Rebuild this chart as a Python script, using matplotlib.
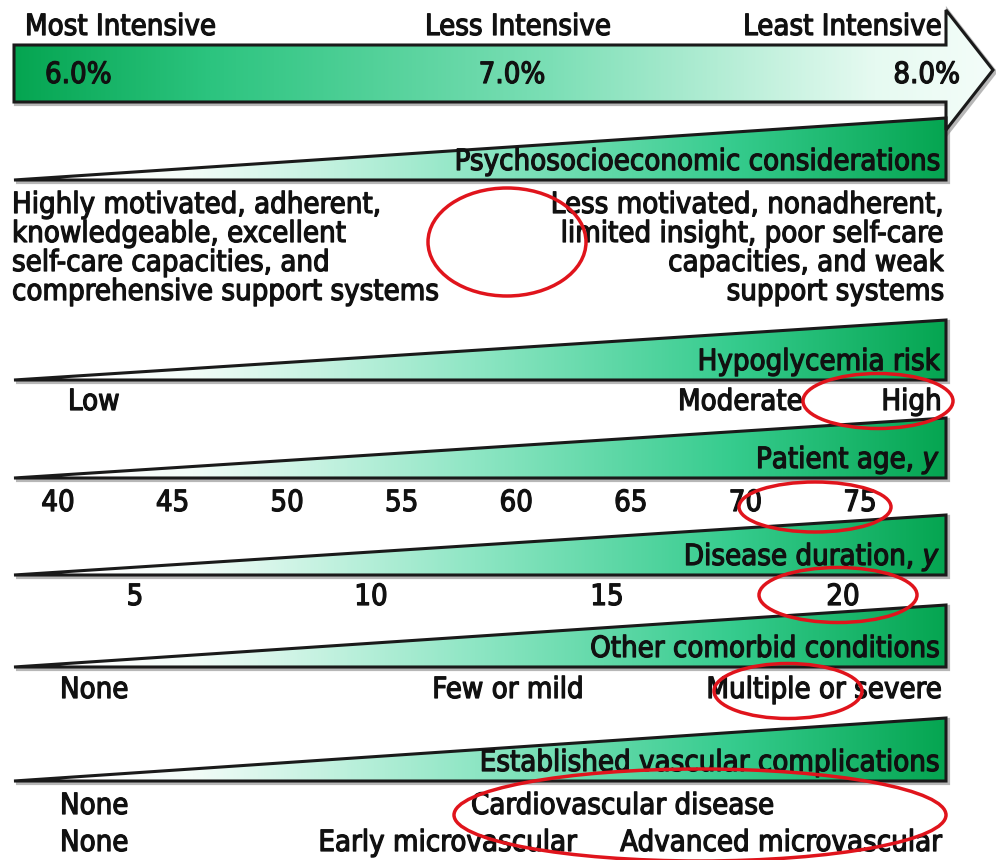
import numpy as np
import matplotlib as mpl
import matplotlib.pyplot as plt
import matplotlib.patheffects as pe
from matplotlib.patches import Polygon, Ellipse
from matplotlib.colors import LinearSegmentedColormap

plt.rcParams['font.family'] = ['DejaVu Sans']
plt.rcParams['font.stretch'] = 'condensed'

# --- chart content ---
top_labels = ["Most Intensive", "Less Intensive", "Least Intensive"]
a1c_targets = ["6.0%", "7.0%", "8.0%"]

wedge_titles = ["Psychosocioeconomic considerations", "Hypoglycemia risk",
                r"Patient age, $\it{y}$", r"Disease duration, $\it{y}$",
                "Other comorbid conditions", "Established vascular complications"]

psych_left = ["Highly motivated, adherent,", "knowledgeable, excellent",
              "self-care capacities, and", "comprehensive support systems"]
psych_right = ["Less motivated, nonadherent,", "limited insight, poor self-care",
               "capacities, and weak", "support systems"]

hypo_labels = ["Low", "Moderate", "High"]
age_ticks = [40, 45, 50, 55, 60, 65, 70, 75]
duration_ticks = [5, 10, 15, 20]
comorbid_labels = ["None", "Few or mild", "Multiple or severe"]
vascular_cvd = ["None", "Cardiovascular disease"]
vascular_micro = ["None", "Early microvascular", "Advanced microvascular"]

# --- layout (pixel space) ---
W, H = 996, 860
LEFT, RIGHT = 14, 946
wedge_rows = [(118, 180), (320, 380), (418, 478), (515, 575), (605, 667), (718, 781)]
FS = 21
heavy = [pe.withStroke(linewidth=0.9, foreground='#111111')]

green = LinearSegmentedColormap.from_list(
    'grn', [(0.0, '#ffffff'), (0.12, '#f2fcf8'), (0.45, '#8ee6c4'),
            (0.75, '#36cc8e'), (1.0, '#05a551')])

fig = plt.figure(figsize=(W / 100, H / 100), dpi=100)
ax = fig.add_axes([0, 0, 1, 1])


def txt(x, y, s, ha='left', z=4):
    ax.text(x, y, s, fontsize=FS, ha=ha, va='center', color='#111111',
            zorder=z, path_effects=heavy)


def grad_poly(verts, x0, x1, cmap, flip=False):
    ys = [v[1] for v in verts]
    # shadow
    sh = Polygon([(x + 2, y + 2) for x, y in verts], closed=True,
                 facecolor='none', edgecolor='#888888', lw=3, alpha=0.6, zorder=1)
    ax.add_patch(sh)
    poly = Polygon(verts, closed=True, facecolor='none', edgecolor='#1a1a1a',
                   lw=2.2, zorder=3, joinstyle='miter')
    ax.add_patch(poly)
    # base colour for the part not covered by the gradient
    base = Polygon(verts, closed=True, facecolor=cmap(1.0 if flip else 0.0),
                   edgecolor='none', zorder=1.5)
    ax.add_patch(base)
    g = np.linspace(0, 1, 512).reshape(1, -1)
    if flip:
        g = g[:, ::-1]
    im = ax.imshow(g, cmap=cmap, extent=[x0, x1, max(ys), min(ys)],
                   aspect='auto', zorder=2, interpolation='bilinear')
    im.set_clip_path(Polygon(verts, closed=True, transform=ax.transData))


# big arrow on top
arrow_cmap = LinearSegmentedColormap.from_list(
    'arr', [(0.0, '#f4fdf9'), (0.12, '#e6faf1'), (0.45, '#7cdfb6'),
            (0.8, '#2cc47f'), (1.0, '#05a551')])
arrow = [(LEFT, 45), (RIGHT, 45), (RIGHT, 10), (993, 70), (RIGHT, 130),
         (RIGHT, 102), (LEFT, 102)]
grad_poly(arrow, LEFT, 993, arrow_cmap, flip=True)

txt(25, 27, top_labels[0])
txt(518, 27, top_labels[1], 'center')
txt(942, 27, top_labels[2], 'right')
txt(45, 75, a1c_targets[0])
txt(512, 75, a1c_targets[1], 'center')
txt(960, 75, a1c_targets[2], 'right')

# wedges
for (top, bot), title in zip(wedge_rows, wedge_titles):
    grad_poly([(LEFT, bot), (RIGHT, top), (RIGHT, bot)], 90, RIGHT, green)
    txt(940, bot - 18, title, 'right')

# psychosocioeconomic text
for i, (l, r) in enumerate(zip(psych_left, psych_right)):
    y = 205 + i * 29
    txt(12, y, l)
    txt(944, y, r, 'right')

# hypoglycemia
txt(68, 402, hypo_labels[0])
txt(678, 402, hypo_labels[1])
txt(942, 402, hypo_labels[2], 'right')

# age
for v in age_ticks:
    txt(58 + (v - 40) * (860 - 58) / 35, 503, str(v), 'center')

# duration
for v in duration_ticks:
    txt(135 + (v - 5) * (843 - 135) / 15, 597, str(v), 'center')

# comorbid
txt(60, 690, comorbid_labels[0])
txt(508, 690, comorbid_labels[1], 'center')
txt(942, 690, comorbid_labels[2], 'right')

# vascular
txt(60, 806, vascular_cvd[0])
txt(471, 806, vascular_cvd[1])
txt(60, 843, vascular_micro[0])
txt(577, 843, vascular_micro[1], 'right')
txt(942, 843, vascular_micro[2], 'right')

# red annotation ellipses
for cx, cy, w, h in [(507, 242, 158, 108), (878, 401, 150, 55), (815, 507, 152, 50),
                     (838, 595, 158, 55), (788, 691, 148, 55), (700, 815, 492, 92)]:
    ax.add_patch(Ellipse((cx, cy), w, h, facecolor='none', edgecolor='#e0141c',
                         lw=2.5, zorder=5))

ax.set_xlim(0, W)
ax.set_ylim(H, 0)
ax.axis('off')
fig.savefig('out.png', dpi=100, facecolor='white')
